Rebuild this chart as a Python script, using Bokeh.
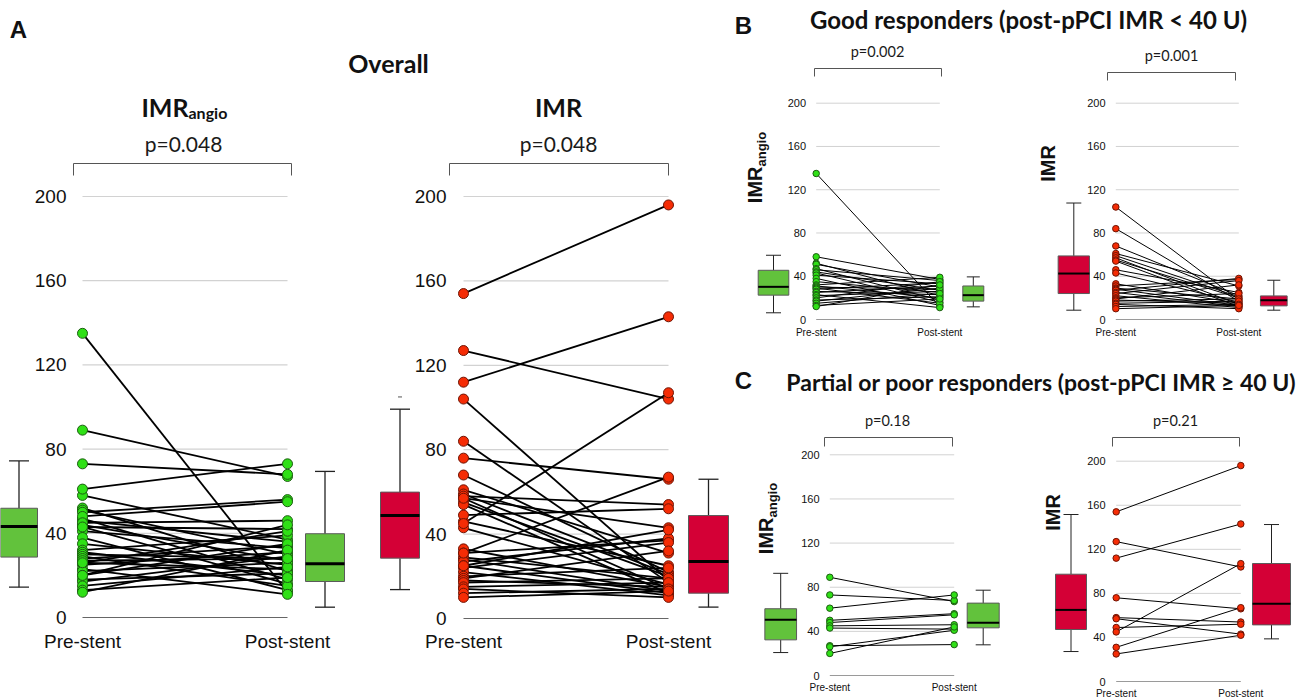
import math
from bokeh.plotting import figure
from bokeh.models import Range1d, LinearAxis, FixedTicker
from bokeh.core.properties import value
from bokeh.embed import file_html
from bokeh.resources import INLINE

W, H = 1309, 699

# ---------------- data ----------------
good_angio_pre  = [135, 58, 52, 51, 47, 46, 44, 43, 41, 38, 35, 32, 31, 30, 29, 28, 26, 25, 23, 22, 20, 18, 17, 15, 13, 12]
good_angio_post = [12, 37, 22, 30, 18, 36, 27, 16, 33, 13, 25, 39, 20, 28, 15, 34, 23, 31, 11, 26, 35, 21, 29, 24, 19, 32]
good_imr_pre    = [104, 84, 68, 61, 59, 57, 55, 54, 46, 43, 33, 31, 29, 28, 27, 25, 24, 22, 20, 19, 18, 17, 15, 14, 12, 10]
good_imr_post   = [18, 17, 22, 31, 21, 14, 20, 12, 25, 16, 15, 37, 19, 13, 38, 12, 36, 11, 24, 32, 15, 19, 17, 10, 14, 13]
poor_angio_pre  = [89, 73, 61, 50, 48, 45, 43, 27, 26, 20]
poor_angio_post = [67, 68, 73, 56, 55, 46, 42, 28, 41, 44]
poor_imr_pre    = [154, 127, 112, 76, 58, 57, 49, 45, 31, 25]
poor_imr_post   = [196, 104, 143, 66, 54, 43, 52, 107, 67, 42]

all_angio_pre  = good_angio_pre + poor_angio_pre
all_angio_post = good_angio_post + poor_angio_post
all_imr_pre    = good_imr_pre + poor_imr_pre
all_imr_post   = good_imr_post + poor_imr_post

y_ticks = [0, 40, 80, 120, 160, 200]
x_tick_labels = ["Pre-stent", "Post-stent"]

# box statistics: [lower whisker, Q1, median, Q3, upper whisker]
box_all_angio_pre   = [14.4, 28.7, 43.2, 51.9, 74.4]
box_all_angio_post  = [4.9, 17.1, 25.5, 39.8, 69.4]
box_all_imr_pre     = [13.7, 28.6, 48.8, 59.9, 99.2]
box_all_imr_post    = [5.4, 12.0, 27.0, 48.8, 66.0]
all_imr_pre_outliers = [105]
box_good_angio_pre  = [6.2, 22.5, 30.2, 45.5, 59.4]
box_good_angio_post = [11.7, 17.0, 22.5, 31.0, 39.4]
box_good_imr_pre    = [8.6, 24.0, 42.5, 58.8, 107.7]
box_good_imr_post   = [8.6, 12.6, 17.8, 21.8, 36.3]
box_poor_angio_pre  = [20.8, 32.3, 50.5, 60.5, 92.6]
box_poor_angio_post = [27.8, 43.2, 47.7, 65.6, 77.3]
box_poor_imr_pre    = [27.2, 47.2, 65.0, 97.4, 151.6]
box_poor_imr_post   = [38.7, 51.4, 70.5, 107.1, 142.5]

p_values = ["p=0.048", "p=0.048", "p=0.002", "p=0.001", "p=0.18", "p=0.21"]

# ---------------- styles ----------------
TFONT = "Lato"
LFONT = "Liberation Sans"
GREEN_PT, GREEN_PT_LINE, GREEN_BOX = "#2fe016", "#1d5c12", "#62c23c"
RED_PT, RED_PT_LINE, RED_BOX = "#f52c05", "#6e1404", "#d40036"

PANELS = [
    dict(name="a1", pre=82, post=287, zero=617, top=196, pre_vals=all_angio_pre, post_vals=all_angio_post,
         bpre=box_all_angio_pre, bpost=box_all_angio_post, col="g", big=True,
         lbox=(18.5, 37, 20), rbox=(324.5, 39, 20), axis_px=66, xlab_px=630,
         ptext=p_values[0], pxy=(183, 143), bracket=(73, 291, 163, 175)),
    dict(name="a2", pre=463, post=668, zero=618, top=196, pre_vals=all_imr_pre, post_vals=all_imr_post,
         bpre=box_all_imr_pre, bpost=box_all_imr_post, col="r", big=True,
         lbox=(399.5, 39, 20), rbox=(708, 40, 20), axis_px=446, xlab_px=630,
         ptext=p_values[1], pxy=(558, 143), bracket=(449, 668, 163, 175)),
    dict(name="b1", pre=815.7, post=939.3, zero=319, top=102.7, pre_vals=good_angio_pre, post_vals=good_angio_post,
         bpre=box_good_angio_pre, bpost=box_good_angio_post, col="g", big=False,
         lbox=(773, 30.6, 15), rbox=(972.8, 21, 13), axis_px=805.5, xlab_px=326,
         ptext=p_values[2], pxy=(877, 51), bracket=(814, 941, 68, 76)),
    dict(name="b2", pre=1115.3, post=1238.3, zero=319, top=102.7, pre_vals=good_imr_pre, post_vals=good_imr_post,
         bpre=box_good_imr_pre, bpost=box_good_imr_post, col="r", big=False,
         lbox=(1073.3, 31.3, 15), rbox=(1273.3, 26.7, 13), axis_px=1105, xlab_px=326,
         ptext=p_values[3], pxy=(1171, 55), bracket=(1107, 1235, 72, 80)),
    dict(name="c1", pre=829.3, post=953.7, zero=675, top=454.3, pre_vals=poor_angio_pre, post_vals=poor_angio_post,
         bpre=box_poor_angio_pre, bpost=box_poor_angio_post, col="g", big=False,
         lbox=(780.2, 31.7, 15), rbox=(982.7, 32, 15), axis_px=819, xlab_px=681,
         ptext=p_values[4], pxy=(887, 420), bracket=(824, 952, 437, 446)),
    dict(name="c2", pre=1115.7, post=1240.3, zero=681, top=460.7, pre_vals=poor_imr_pre, post_vals=poor_imr_post,
         bpre=box_poor_imr_pre, bpost=box_poor_imr_post, col="r", big=False,
         lbox=(1070.5, 31, 15), rbox=(1271, 38, 15), axis_px=1105, xlab_px=687,
         ptext=p_values[5], pxy=(1175, 420), bracket=(1112, 1239, 437, 446)),
]

p = figure(width=W, height=H, x_range=Range1d(0, W), y_range=Range1d(0, H),
           x_axis_type=None, y_axis_type=None, output_backend="svg", toolbar_location=None,
           min_border=0, outline_line_color=None)
p.background_fill_color = "white"
p.border_fill_color = "white"

xrs, yrs = {}, {}
for s in PANELS:
    u = s["post"] - s["pre"]
    k = (s["zero"] - s["top"]) / 200.0
    xrs[s["name"]] = Range1d(-s["pre"] / u, (W - s["pre"]) / u)
    yrs[s["name"]] = Range1d(-(H - s["zero"]) / k, s["zero"] / k)
p.extra_x_ranges = xrs
p.extra_y_ranges = yrs


def draw(s):
    nm = s["name"]
    kw = dict(x_range_name=nm, y_range_name=nm)
    u = s["post"] - s["pre"]
    k = (s["zero"] - s["top"]) / 200.0
    X = lambda px: (px - s["pre"]) / u
    Y = lambda py: (s["zero"] - py) / k
    big = s["big"]
    green = s["col"] == "g"
    pt_fill = GREEN_PT if green else RED_PT
    pt_line = GREEN_PT_LINE if green else RED_PT_LINE
    box_fill = GREEN_BOX if green else RED_BOX

    # grid lines between the two time points
    gl = y_ticks[1:]
    p.segment(x0=[0] * len(gl), x1=[1] * len(gl), y0=gl, y1=gl,
              line_color="#d2d2d2", line_width=1.2 if big else 1, **kw)
    p.segment(x0=[0], x1=[1], y0=[y_ticks[0]], y1=[y_ticks[0]],
              line_color="#666666" if big else "#9a9a9a", line_width=1.2 if big else 1, **kw)

    # bracket and p value
    bx0, bx1, bt, bb = s["bracket"]
    p.line(x=[X(bx0), X(bx0), X(bx1), X(bx1)], y=[Y(bb), Y(bt), Y(bt), Y(bb)],
           line_color="#555555", line_width=1, **kw)
    p.text(x=[X(s["pxy"][0])], y=[Y(s["pxy"][1])], text=[s["ptext"]],
           text_font=value(TFONT), text_font_size="21px" if big else "14.5px",
           text_align="center", text_baseline="middle", text_color="#1a1a1a", **kw)

    # boxes
    for (cpx, wpx, cappx), st in ((s["lbox"], s["bpre"]), (s["rbox"], s["bpost"])):
        lo, q1, med, q3, hi = st
        cx = X(cpx)
        hw = wpx / 2.0 / u
        cw = cappx / 2.0 / u
        p.segment(x0=[cx, cx], x1=[cx, cx], y0=[hi, lo], y1=[q3, q1],
                  line_color="#222222", line_width=1.3 if big else 1, **kw)
        p.segment(x0=[cx - cw, cx - cw], x1=[cx + cw, cx + cw], y0=[hi, lo], y1=[hi, lo],
                  line_color="#222222", line_width=1.3 if big else 1, **kw)
        p.quad(left=[cx - hw], right=[cx + hw], bottom=[q1], top=[q3],
               fill_color=box_fill, line_color="#5a5a5a", line_width=1, **kw)
        p.segment(x0=[cx - hw], x1=[cx + hw], y0=[med], y1=[med],
                  line_color="black", line_width=3 if big else 2, **kw)

    # paired lines and points
    n = len(s["pre_vals"])
    p.segment(x0=[0] * n, x1=[1] * n, y0=s["pre_vals"], y1=s["post_vals"],
              line_color="black", line_width=1.8 if big else 1, **kw)
    p.scatter(x=[0] * n + [1] * n, y=list(s["pre_vals"]) + list(s["post_vals"]),
              size=10 if big else 6.5, fill_color=pt_fill, line_color=pt_line,
              line_width=1, **kw)

    # y axis (labels only), placed right before the pre-stent column
    ya = LinearAxis(x_range_name=nm, y_range_name=nm, fixed_location=X(s["axis_px"]),
                    ticker=FixedTicker(ticks=y_ticks), axis_line_color=None,
                    major_tick_line_color=None, minor_tick_line_color=None,
                    major_tick_out=0, major_tick_in=0, major_label_standoff=0,
                    major_label_text_font=LFONT,
                    major_label_text_font_size="19px" if big else "11px",
                    major_label_text_color="#111111")
    p.add_layout(ya, "left")
    # x axis (time point labels)
    xa = LinearAxis(x_range_name=nm, y_range_name=nm, fixed_location=Y(s["xlab_px"]),
                    ticker=FixedTicker(ticks=[0, 1]),
                    major_label_overrides={0: x_tick_labels[0], 1: x_tick_labels[1]},
                    axis_line_color=None, major_tick_line_color=None, minor_tick_line_color=None,
                    major_tick_out=0, major_tick_in=0, major_label_standoff=0,
                    major_label_text_font=LFONT,
                    major_label_text_font_size="19px" if big else "10px",
                    major_label_text_color="#111111")
    p.add_layout(xa, "below")
    return X, Y, kw


fx = {}
for s in PANELS:
    fx[s["name"]] = draw(s)

# outlier marker in the overall IMR pre-stent box
X, Y, kw = fx["a2"]
p.scatter(x=[X(399.5)] * len(all_imr_pre_outliers), y=all_imr_pre_outliers, marker="dash",
          size=4, line_color="#555555", **kw)

# ---- panel A titles ----
X, Y, kw = fx["a1"]
p.text(x=[X(188)], y=[Y(106)], text=["IMR"], text_font=value(TFONT), text_font_style="bold",
       text_font_size="25px", text_align="right", text_baseline="alphabetic", text_color="#111111", **kw)
p.text(x=[X(188)], y=[Y(112)], text=["angio"], text_font=value(TFONT), text_font_style="bold",
       text_font_size="16px", text_align="left", text_baseline="alphabetic", text_color="#111111", **kw)
X, Y, kw = fx["a2"]
p.text(x=[X(558)], y=[Y(106)], text=["IMR"], text_font=value(TFONT), text_font_style="bold",
       text_font_size="25px", text_align="center", text_baseline="alphabetic", text_color="#111111", **kw)

# ---- vertical labels for B and C ----
for nm, cx, jy in (("b1", 754, 166), ("c1", 765, 517)):
    X, Y, kw = fx[nm]
    p.text(x=[X(cx)], y=[Y(jy)], text=["IMR"], angle=math.pi / 2, text_font=value(LFONT),
           text_font_style="bold", text_font_size="20px", text_align="right", text_baseline="middle",
           text_color="#111111", **kw)
    p.text(x=[X(cx + 7)], y=[Y(jy)], text=["angio"], angle=math.pi / 2, text_font=value(LFONT),
           text_font_style="bold", text_font_size="13px", text_align="left", text_baseline="middle",
           text_color="#111111", **kw)
for nm, cx, cy in (("b2", 1047, 163), ("c2", 1052, 512)):
    X, Y, kw = fx[nm]
    p.text(x=[X(cx)], y=[Y(cy)], text=["IMR"], angle=math.pi / 2, text_font=value(LFONT),
           text_font_style="bold", text_font_size="20px", text_align="center", text_baseline="middle",
           text_color="#111111", **kw)

# ---- page headings ----
p.text(x=[18, 743, 743], y=[H - 29, H - 25, H - 380], text=["A", "B", "C"],
       text_font=value(LFONT), text_font_style="bold", text_font_size="24px",
       text_align="center", text_baseline="middle", text_color="#111111")
p.text(x=[388], y=[H - 62], text=["Overall"], text_font=value(TFONT), text_font_style="bold",
       text_font_size="25px", text_align="center", text_baseline="middle", text_color="#111111")
p.text(x=[1028], y=[H - 19], text=["Good responders (post-pPCI IMR < 40 U)"],
       text_font=value(TFONT), text_font_style="bold", text_font_size="24px",
       text_align="center", text_baseline="middle", text_color="#111111")
p.text(x=[1041], y=[H - 381], text=["Partial or poor responders (post-pPCI IMR \u2265 40 U)"],
       text_font=value(TFONT), text_font_style="bold", text_font_size="23px",
       text_align="center", text_baseline="middle", text_color="#111111")

open("out.html", "w").write(file_html(p, INLINE))
